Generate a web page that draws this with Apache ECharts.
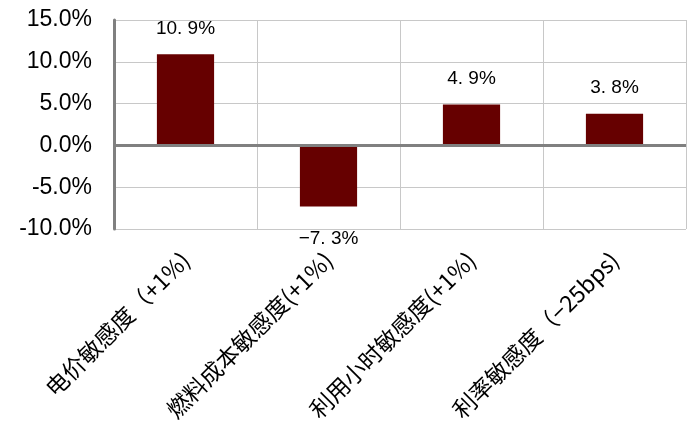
<!DOCTYPE html>
<html>
<head>
<meta charset="utf-8">
<script src="https://cdn.jsdelivr.net/npm/echarts@6/dist/echarts.min.js"></script>
<style>
  html, body { margin: 0; padding: 0; background: #fff; }
  #chart { width: 700px; height: 436px; }
</style>
</head>
<body>
<div id="chart"></div>
<script>
// 敏感性分析数据
const categories = ['电价敏感度（+1%)', '燃料成本敏感度(+1%)', '利用小时敏感度(+1%)', '利率敏感度（−25bps)'];
const values = [10.9, -7.3, 4.9, 3.8];
const yTicks = { min: -10, max: 15, interval: 5 };

const chart = echarts.init(document.getElementById('chart'));

// 数值标签，例如 "10. 9%"
function fmtLabel(v) {
    const s = Math.abs(v).toFixed(1).replace('.', '. ');
    return (v < 0 ? '−' : '') + s + '%';
}

const option = {
    animation: false,
    grid: { left: 114, right: 14, top: 20, bottom: 207 },
    xAxis: {
        type: 'category',
        data: categories,
        axisLine: { show: false, onZero: false },
        axisTick: { show: false },
        splitLine: { show: true, lineStyle: { color: '#c8c8c8', width: 1 } },
        axisLabel: {
            rotate: 45,
            interval: 0,
            margin: 27,
            color: '#000',
            fontSize: 23,
            fontFamily: '"Noto Sans CJK SC", sans-serif'
        }
    },
    yAxis: {
        type: 'value',
        min: yTicks.min,
        max: yTicks.max,
        interval: yTicks.interval,
        axisLine: { show: true, lineStyle: { color: '#808080', width: 3 } },
        axisTick: { show: false },
        splitLine: { lineStyle: { color: '#c8c8c8', width: 1 } },
        axisLabel: {
            margin: 22,
            color: '#000',
            fontSize: 23,
            fontFamily: '"Liberation Sans", Arial, sans-serif',
            formatter: v => v.toFixed(1) + '%'
        }
    },
    series: [{
        type: 'bar',
        barWidth: '40%',
        itemStyle: { color: '#660000' },
        data: values.map(v => ({
            value: v,
            label: { position: v < 0 ? 'bottom' : 'top', distance: v < 0 ? 23 : 16 }
        })),
        label: {
            show: true,
            color: '#000',
            fontSize: 19,
            fontFamily: '"Liberation Sans", Arial, sans-serif',
            formatter: p => fmtLabel(p.value)
        },
        markLine: {
            silent: true,
            symbol: 'none',
            label: { show: false },
            lineStyle: { color: '#808080', width: 3, type: 'solid' },
            data: [{ yAxis: 0 }]
        }
    }]
};

chart.setOption(option);
</script>
</body>
</html>
